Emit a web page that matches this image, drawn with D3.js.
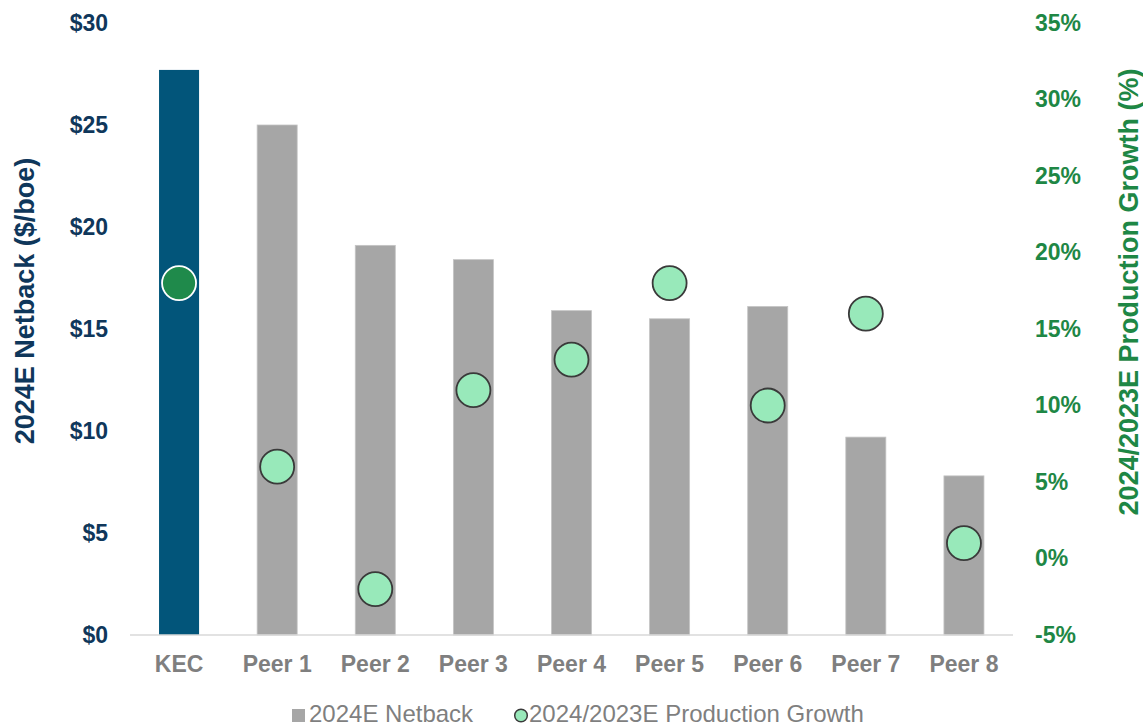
<!DOCTYPE html>
<html>
<head>
<meta charset="utf-8">
<script src="https://cdn.jsdelivr.net/npm/d3@7"></script>
<style>
  html, body { margin: 0; padding: 0; background: #ffffff; }
  svg { display: block; font-family: "Liberation Sans", Arial, sans-serif; }
</style>
</head>
<body>
<svg id="chart" width="1143" height="727"></svg>
<script>
// ---- Data ----
const categories = ["KEC", "Peer 1", "Peer 2", "Peer 3", "Peer 4", "Peer 5", "Peer 6", "Peer 7", "Peer 8"];
const netback = [27.7, 25.0, 19.1, 18.4, 15.9, 15.5, 16.1, 9.7, 7.8];          // $/boe
const growth = [18, 6, -2, 11, 13, 18, 10, 16, 1];                               // %
const leftTicks = [0, 5, 10, 15, 20, 25, 30];
const rightTicks = [-5, 0, 5, 10, 15, 20, 25, 30, 35];
const legendLabels = ["2024E Netback", "2024/2023E Production Growth"];
const leftTitle = "2024E Netback ($/boe)";
const rightTitle = "2024/2023E Production Growth (%)";

// ---- Styles ----
const KEC_BAR = "#02557A";
const PEER_BAR = "#A6A6A6";
const KEC_DOT = "#1F8A4B";
const PEER_DOT = "#98E9BA";
const NAVY = "#0F375B";
const GREEN = "#1E8745";
const GREY_TXT = "#7F7F7F";

const svg = d3.select("#chart");

const x = d3.scaleBand()
  .domain(categories)
  .range([130, 1013])
  .paddingInner(0.592)
  .paddingOuter(0.296);

const yL = d3.scaleLinear().domain([0, 30]).range([635, 23]);
const yR = d3.scaleLinear().domain([-5, 35]).range([635, 23]);

// Bars
svg.append("g").selectAll("rect")
  .data(categories)
  .join("rect")
  .attr("x", d => x(d))
  .attr("width", x.bandwidth())
  .attr("y", (d, i) => yL(netback[i]))
  .attr("height", (d, i) => yL(0) - yL(netback[i]))
  .attr("fill", (d, i) => i === 0 ? KEC_BAR : PEER_BAR)
  .attr("stroke", (d, i) => i === 0 ? "none" : "#C4C4C4")
  .attr("stroke-width", 0.8);

// Baseline axis line
svg.append("line")
  .attr("x1", x.range()[0]).attr("x2", x.range()[1])
  .attr("y1", yL(0)).attr("y2", yL(0))
  .attr("stroke", "#D9D9D9").attr("stroke-width", 1.3);

// Dots
svg.append("g").selectAll("circle")
  .data(categories)
  .join("circle")
  .attr("cx", d => x(d) + x.bandwidth() / 2)
  .attr("cy", (d, i) => yR(growth[i]))
  .attr("r", 17)
  .attr("fill", (d, i) => i === 0 ? KEC_DOT : PEER_DOT)
  .attr("stroke", (d, i) => i === 0 ? "#ffffff" : "#3A3A3A")
  .attr("stroke-width", 1.8);

// Left axis
const leftAxis = svg.append("g")
  .attr("transform", "translate(108,0)")
  .call(d3.axisLeft(yL).tickValues(leftTicks).tickSize(0).tickPadding(0).tickFormat(d => "$" + d));
leftAxis.select(".domain").remove();
leftAxis.selectAll("text")
  .attr("fill", NAVY)
  .attr("font-size", 23)
  .attr("font-weight", "bold")
  .attr("font-family", "Liberation Sans, Arial, sans-serif");

// Right axis
const rightAxis = svg.append("g")
  .attr("transform", "translate(1035,0)")
  .call(d3.axisRight(yR).tickValues(rightTicks).tickSize(0).tickPadding(0).tickFormat(d => d + "%"));
rightAxis.select(".domain").remove();
rightAxis.selectAll("text")
  .attr("fill", GREEN)
  .attr("font-size", 23)
  .attr("font-weight", "bold")
  .attr("font-family", "Liberation Sans, Arial, sans-serif");

// Category axis
const bottomAxis = svg.append("g")
  .attr("transform", "translate(0,650)")
  .call(d3.axisBottom(x).tickSize(0).tickPadding(0));
bottomAxis.select(".domain").remove();
bottomAxis.selectAll("text")
  .attr("dy", null)
  .attr("y", 22)
  .attr("fill", GREY_TXT)
  .attr("font-size", 23)
  .attr("font-weight", "bold")
  .attr("font-family", "Liberation Sans, Arial, sans-serif");

// Axis titles
svg.append("text")
  .attr("transform", "translate(34,301) rotate(-90)")
  .attr("text-anchor", "middle")
  .attr("fill", NAVY)
  .attr("font-size", 27)
  .attr("font-weight", "bold")
  .text(leftTitle);

svg.append("text")
  .attr("transform", "translate(1138,292) rotate(-90)")
  .attr("text-anchor", "middle")
  .attr("fill", GREEN)
  .attr("font-size", 27)
  .attr("font-weight", "bold")
  .text(rightTitle);

// Legend
const lg = svg.append("g");
lg.append("rect")
  .attr("x", 292).attr("y", 709).attr("width", 13).attr("height", 13)
  .attr("fill", PEER_BAR);
lg.append("text")
  .attr("x", 309).attr("y", 722)
  .attr("fill", GREY_TXT).attr("font-size", 24)
  .text(legendLabels[0]);
lg.append("circle")
  .attr("cx", 521).attr("cy", 715.5).attr("r", 6.3)
  .attr("fill", PEER_DOT).attr("stroke", "#3A3A3A").attr("stroke-width", 1.5);
lg.append("text")
  .attr("x", 529).attr("y", 722)
  .attr("fill", GREY_TXT).attr("font-size", 24)
  .text(legendLabels[1]);
</script>
</body>
</html>
